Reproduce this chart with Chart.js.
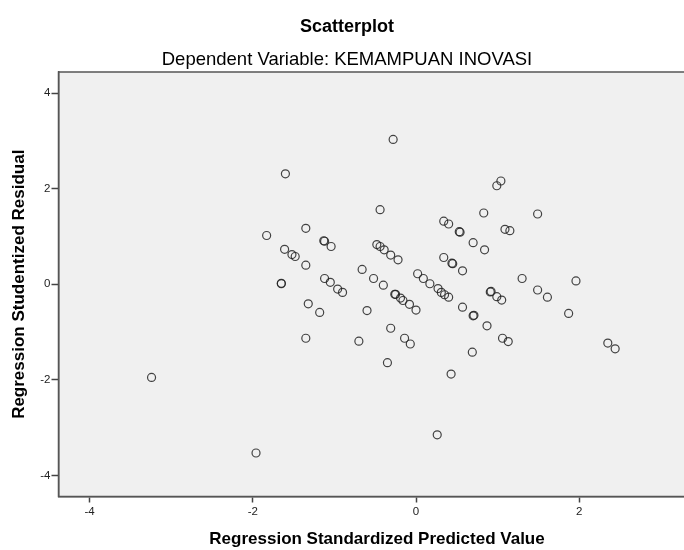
<!DOCTYPE html>
<html>
<head>
<meta charset="utf-8">
<title>Scatterplot</title>
<script src="https://cdn.jsdelivr.net/npm/chart.js@4.4.1/dist/chart.umd.min.js"></script>
<style>
  html, body { margin: 0; padding: 0; background: #fff; overflow: hidden; }
  #wrap { position: relative; width: 780px; height: 550px; }
</style>
</head>
<body>
<div id="wrap"><canvas id="scatterChart"></canvas></div>
<script>
// values
const predicted = [
  -0.28, -1.60, -0.44, -1.83, -1.35, -1.13, -1.12, -1.04, -1.61, -1.52,
  -1.48, -1.35, -1.65, -1.65, -1.12, -1.05, -0.96, -0.90, -1.32, -1.18,
  -0.60, -1.35, -0.70, -0.31, -0.14, -0.07, -0.35, 0.43, 0.26, -1.96,
  -3.24, -0.48, -0.44, -0.39, -0.31, -0.22, -0.66, -0.52, -0.40, -0.26,
  -0.25, -0.19, -0.16, -0.08, 0.00, 0.02, 0.09, 0.17, 0.27, 0.31,
  0.35, 0.40, 0.34, 0.40, 0.53, 0.54, 0.83, 1.04, 0.99, 1.09,
  1.15, 1.49, 0.70, 0.84, 0.34, 0.44, 0.45, 0.57, 1.30, 1.96,
  0.91, 0.92, 0.99, 1.05, 1.49, 1.61, 0.57, 0.70, 0.71, 0.87,
  1.87, 1.06, 1.13, 0.69, 2.35, 2.44
];
const residual = [
  3.03, 2.31, 1.56, 1.02, 1.17, 0.91, 0.90, 0.79, 0.73, 0.62,
  0.58, 0.40, 0.02, 0.01, 0.12, 0.04, -0.10, -0.17, -0.41, -0.59,
  -0.55, -1.13, -1.19, -0.92, -1.13, -1.25, -1.64, -1.88, -3.15, -3.53,
  -1.95, 0.83, 0.79, 0.72, 0.61, 0.51, 0.31, 0.12, -0.02, -0.21,
  -0.21, -0.29, -0.34, -0.42, -0.54, 0.22, 0.12, 0.01, -0.09, -0.17,
  -0.22, -0.27, 1.32, 1.26, 1.10, 1.09, 1.49, 2.16, 2.06, 1.15,
  1.12, 1.47, 0.87, 0.72, 0.56, 0.44, 0.43, 0.28, 0.12, 0.07,
  -0.16, -0.15, -0.26, -0.33, -0.12, -0.27, -0.48, -0.66, -0.65, -0.87,
  -0.61, -1.13, -1.20, -1.42, -1.23, -1.35
];
const xTicks = [-4, -2, 0, 2, 4];
const yTicks = [-4, -2, 0, 2, 4];
const chartTitle = "Scatterplot";
const chartSubtitle = "Dependent Variable: KEMAMPUAN INOVASI";
const xLabel = "Regression Standardized Predicted Value";
const yLabel = "Regression Studentized Residual";

const fontFamily = "'Liberation Sans', Arial, sans-serif";

const points = predicted.map((x, i) => ({ x: x, y: residual[i] }));

// grey plot area with a frame, like SPSS
const plotBackground = {
  id: "plotBackground",
  beforeDraw(chart) {
    const { ctx, chartArea: a } = chart;
    ctx.save();
    ctx.fillStyle = "#f0f0f0";
    ctx.fillRect(a.left, a.top, a.right - a.left, a.bottom - a.top);
    ctx.strokeStyle = "#555";
    ctx.lineWidth = 1.5;
    ctx.strokeRect(a.left, a.top, a.right - a.left, a.bottom - a.top);
    ctx.restore();
  },
};

// titles sit on the original chart frame (which was cropped), not on the plot centre
const frameTitles = {
  id: "frameTitles",
  afterDraw(chart) {
    const ctx = chart.ctx;
    ctx.save();
    ctx.fillStyle = "#000";
    ctx.textAlign = "center";
    ctx.textBaseline = "middle";
    ctx.font = "bold 18px " + fontFamily;
    ctx.fillText(chartTitle, 347, 27);
    ctx.font = "18.5px " + fontFamily;
    ctx.fillText(chartSubtitle, 347, 60);
    ctx.font = "bold 17px " + fontFamily;
    ctx.fillText(xLabel, 377, 539);
    ctx.restore();
  },
};

const chartElement = document.getElementById("scatterChart");
const scatterChart = new Chart(chartElement, {
  type: "scatter",
  data: {
    datasets: [
      {
        data: points,
        pointStyle: "circle",
        pointRadius: 4,
        pointHoverRadius: 4,
        backgroundColor: "rgba(0,0,0,0)",
        borderColor: "rgba(35,35,35,0.85)",
        borderWidth: 1.2,
      },
    ],
  },
  options: {
    responsive: true,
    maintainAspectRatio: false,
    animation: false,
    layout: {
      padding: { top: 72, right: 6.5, left: 0, bottom: 0 },
    },
    plugins: {
      legend: { display: false },
      tooltip: { enabled: false },
    },
    scales: {
      x: {
        type: "linear",
        min: -4.38,
        max: 4.38,
        afterBuildTicks: (scale) => {
          scale.ticks = xTicks.map((v) => ({ value: v }));
        },
        afterFit: (scale) => {
          scale.height = 53.5;
        },
        border: { display: true, color: "#555", width: 1.5 },
        grid: {
          drawOnChartArea: false,
          drawTicks: true,
          tickLength: 6,
          tickColor: "#444",
          tickWidth: 1.5,
        },
        ticks: {
          color: "#222",
          padding: 2,
          font: { family: fontFamily, size: 11.5 },
        },
        title: { display: false },
      },
      y: {
        type: "linear",
        min: -4.44,
        max: 4.44,
        afterBuildTicks: (scale) => {
          scale.ticks = yTicks.map((v) => ({ value: v }));
        },
        afterFit: (scale) => {
          scale.width = 58.5;
        },
        border: { display: true, color: "#555", width: 1.5 },
        grid: {
          drawOnChartArea: false,
          drawTicks: true,
          tickLength: 7,
          tickColor: "#444",
          tickWidth: 1.5,
        },
        ticks: {
          color: "#222",
          padding: 1,
          font: { family: fontFamily, size: 11.5 },
        },
        title: {
          display: true,
          text: yLabel,
          color: "#000",
          padding: { top: 9, bottom: 0 },
          font: { family: fontFamily, size: 17, weight: "bold" },
        },
      },
    },
  },
  plugins: [plotBackground, frameTitles],
});
</script>
</body>
</html>
